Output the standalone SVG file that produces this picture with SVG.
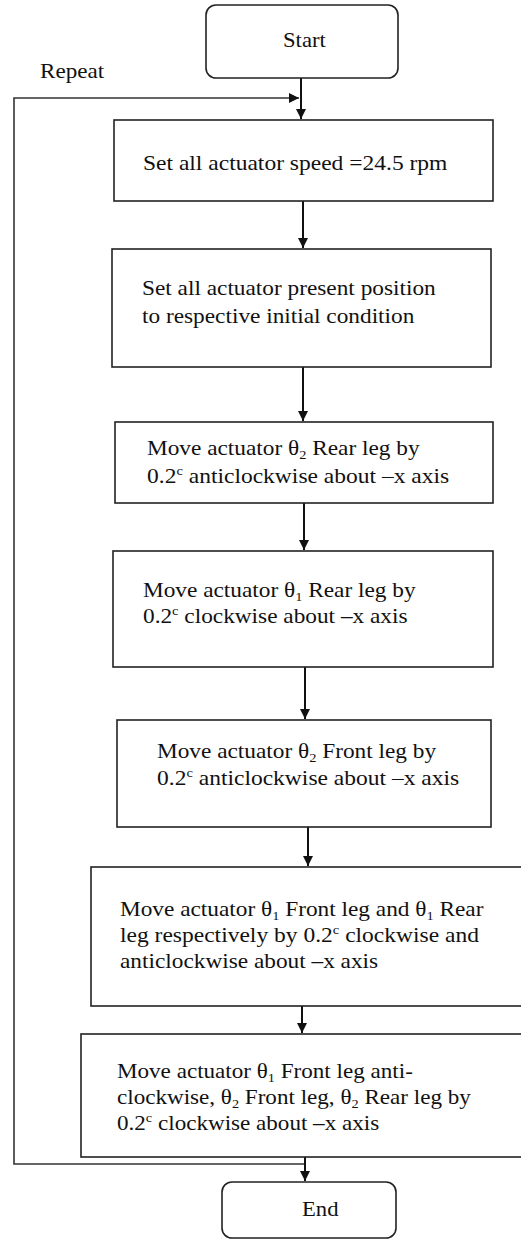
<svg xmlns="http://www.w3.org/2000/svg" width="521" height="1240" viewBox="0 0 521 1240">
<style>
.box{fill:#fff;stroke:#222;stroke-width:1.6}
.t{font-family:'Liberation Serif','Times New Roman',serif;font-size:21px;fill:#111}
.sub{font-size:13px}
.ln{fill:none;stroke:#111;stroke-width:2}
.loop{fill:none;stroke:#333;stroke-width:1.6}
</style>
<defs>
<marker id="ah" markerUnits="userSpaceOnUse" markerWidth="11" markerHeight="11" refX="10" refY="5" orient="auto">
<path d="M0,0 L10,5 L0,10 z" fill="#111"/>
</marker>
</defs>
<rect width="521" height="1240" fill="#fff"/>
<g id="connectors">
<path class="loop" d="M305,1164 L14,1164 L14,98 L299,98" marker-end="url(#ah)"/>
<line class="ln" x1="301" y1="78" x2="301" y2="119" marker-end="url(#ah)"/>
<line class="ln" x1="303" y1="201" x2="303" y2="248" marker-end="url(#ah)"/>
<line class="ln" x1="303" y1="367" x2="303" y2="421" marker-end="url(#ah)"/>
<line class="ln" x1="304" y1="503" x2="304" y2="550" marker-end="url(#ah)"/>
<line class="ln" x1="305" y1="667" x2="305" y2="719" marker-end="url(#ah)"/>
<line class="ln" x1="308" y1="827" x2="308" y2="866" marker-end="url(#ah)"/>
<line class="ln" x1="302" y1="1006" x2="302" y2="1033" marker-end="url(#ah)"/>
<line class="ln" x1="305" y1="1157" x2="305" y2="1181" marker-end="url(#ah)"/>
<text class="t" transform="translate(40,78) scale(1.1,1)">Repeat</text>
</g>
<g id="start">
<rect class="box" x="206" y="5" width="192" height="73" rx="10"/>
<text class="t" transform="translate(283,47) scale(1.08,1)">Start</text>
</g>
<g id="step1">
<rect class="box" x="114" y="120" width="379" height="81"/>
<text class="t" transform="translate(143,170) scale(1.12,1)">Set all actuator speed =24.5 rpm</text>
</g>
<g id="step2">
<rect class="box" x="112" y="249" width="379" height="118"/>
<text class="t" transform="translate(142,295) scale(1.11,1)">Set all actuator present position</text>
<text class="t" transform="translate(142,323) scale(1.11,1)">to respective initial condition</text>
</g>
<g id="step3">
<rect class="box" x="115" y="422" width="378" height="81"/>
<text class="t" transform="translate(147,455) scale(1.11,1)">Move actuator θ<tspan class="sub" dy="4">2</tspan><tspan dy="-4"> Rear leg by</tspan></text>
<text class="t" transform="translate(147,483) scale(1.12,1)">0.2<tspan class="sub" dy="-8">c</tspan><tspan dy="8"> anticlockwise about –x axis</tspan></text>
</g>
<g id="step4">
<rect class="box" x="113" y="551" width="380" height="116"/>
<text class="t" transform="translate(143,597) scale(1.11,1)">Move actuator θ<tspan class="sub" dy="4">1</tspan><tspan dy="-4"> Rear leg by</tspan></text>
<text class="t" transform="translate(143,623) scale(1.11,1)">0.2<tspan class="sub" dy="-8">c</tspan><tspan dy="8"> clockwise about –x axis</tspan></text>
</g>
<g id="step5">
<rect class="box" x="117" y="720" width="374" height="107"/>
<text class="t" transform="translate(157,758) scale(1.11,1)">Move actuator θ<tspan class="sub" dy="4">2</tspan><tspan dy="-4"> Front leg by</tspan></text>
<text class="t" transform="translate(157,785) scale(1.12,1)">0.2<tspan class="sub" dy="-8">c</tspan><tspan dy="8"> anticlockwise about –x axis</tspan></text>
</g>
<g id="step6">
<rect class="box" x="91" y="867" width="440" height="139"/>
<text class="t" transform="translate(120,916) scale(1.11,1)">Move actuator θ<tspan class="sub" dy="4">1</tspan><tspan dy="-4"> Front leg and θ</tspan><tspan class="sub" dy="4">1</tspan><tspan dy="-4"> Rear</tspan></text>
<text class="t" transform="translate(120,942) scale(1.12,1)">leg respectively by 0.2<tspan class="sub" dy="-8">c</tspan><tspan dy="8"> clockwise and</tspan></text>
<text class="t" transform="translate(120,968) scale(1.11,1)">anticlockwise about –x axis</text>
</g>
<g id="step7">
<rect class="box" x="81" y="1034" width="450" height="123"/>
<text class="t" transform="translate(117,1078) scale(1.1,1)">Move actuator θ<tspan class="sub" dy="4">1</tspan><tspan dy="-4"> Front leg anti-</tspan></text>
<text class="t" transform="translate(117,1104) scale(1.1,1)">clockwise, θ<tspan class="sub" dy="4">2</tspan><tspan dy="-4"> Front leg, θ</tspan><tspan class="sub" dy="4">2</tspan><tspan dy="-4"> Rear leg by</tspan></text>
<text class="t" transform="translate(117,1130) scale(1.1,1)">0.2<tspan class="sub" dy="-8">c</tspan><tspan dy="8"> clockwise about –x axis</tspan></text>
</g>
<g id="end">
<rect class="box" x="222" y="1182" width="174" height="56" rx="10"/>
<text class="t" transform="translate(302,1216) scale(1.08,1)">End</text>
</g>
</svg>
